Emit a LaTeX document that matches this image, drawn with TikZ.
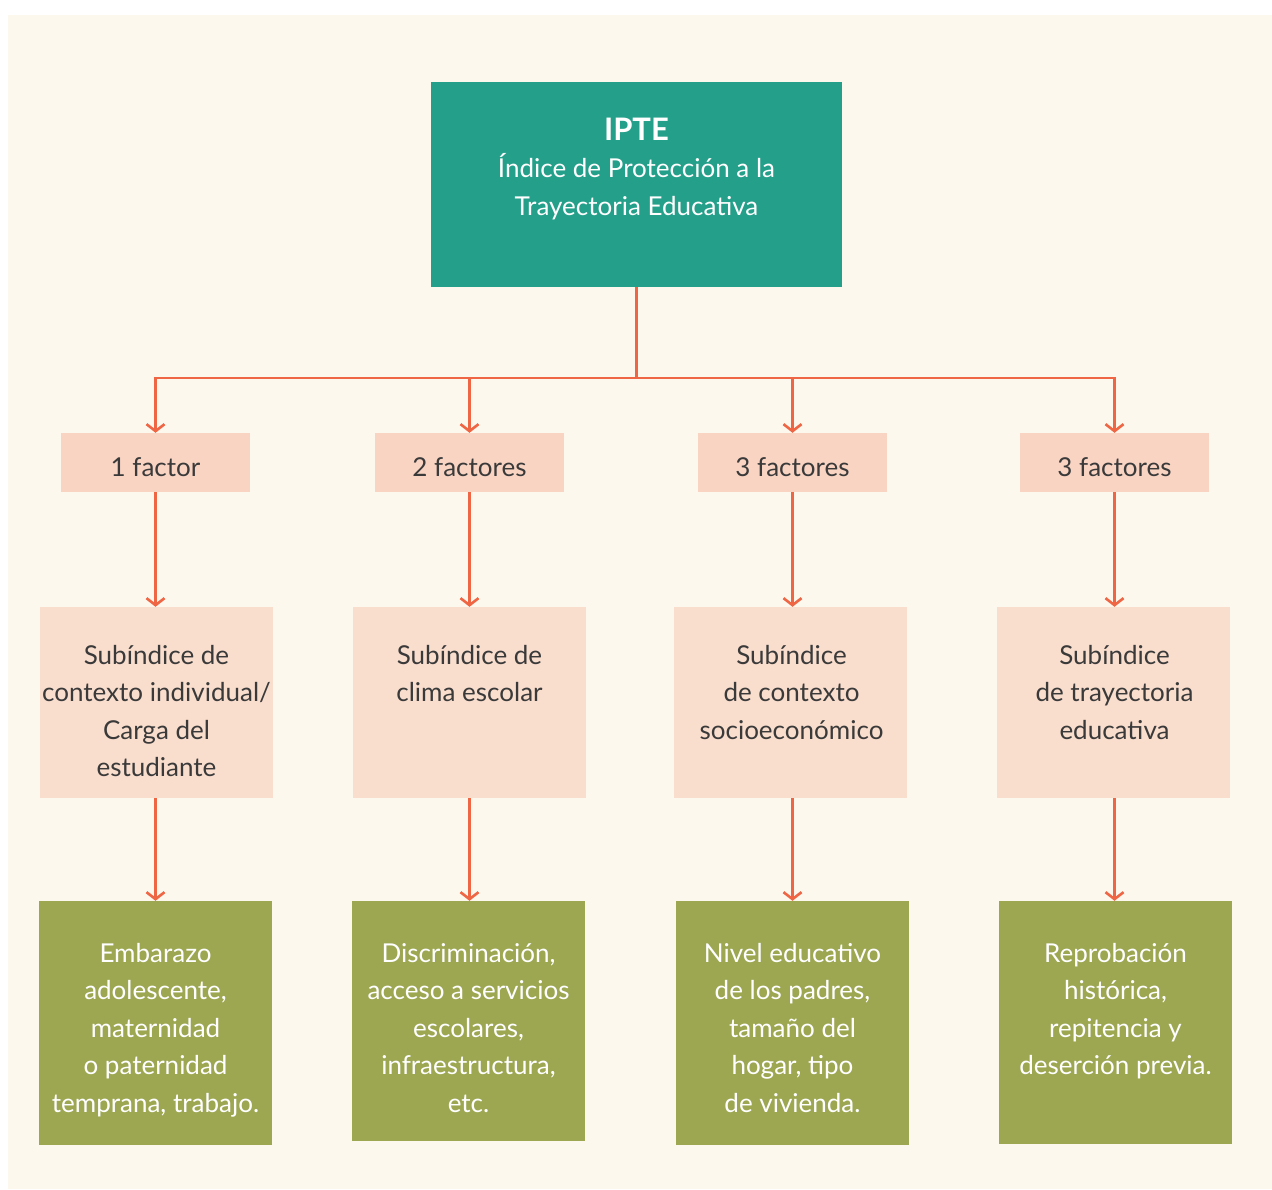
\documentclass[tikz,border=0pt]{standalone}
\usepackage{fontspec}
\setmainfont{Lato}
\usetikzlibrary{arrows.meta}
\definecolor{cream}{HTML}{FCF8EE}
\definecolor{teal}{HTML}{24A08A}
\definecolor{peachA}{HTML}{F9D4C3}
\definecolor{peachB}{HTML}{F9DDCD}
\definecolor{olive}{HTML}{9DA752}
\definecolor{lineor}{HTML}{EF6645}
\definecolor{ink}{HTML}{3A3A3A}
\tikzset{
  box/.style={rectangle, inner sep=0pt, draw=none},
  topbox/.style={box, fill=teal, minimum width=411pt, minimum height=205pt},
  factbox/.style={box, fill=peachA, minimum width=189pt, minimum height=59pt, text=ink,
    font=\fontsize{26}{37.5}\selectfont, text height=27pt, text depth=0pt},
  subbox/.style={box, fill=peachB, minimum width=233pt, minimum height=191pt},
  greenbox/.style={box, fill=olive, minimum width=233pt, minimum height=244pt},
  txt/.style={inner sep=0pt, align=center, anchor=north, font=\fontsize{26}{37.5}\selectfont},
  conn/.style={draw=lineor, line width=2.6pt, line join=miter},
  arr/.style={conn, -{Straight Barb[length=7pt, width=18pt, line width=2.6pt]}}
}
\begin{document}
\begin{tikzpicture}[x=1pt, y=-1pt]
\useasboundingbox (0,0) rectangle (1272,1189);
\fill[white] (0,0) rectangle (1272,1189);
\fill[cream] (8,15) rectangle (1272,1189);

% top box
\node[topbox] (top) at (636.5,184.5) {};
\node[txt, text=white] (toptxt) at (636.5,114) {{\fontsize{31}{37.5}\selectfont\bfseries\strut IPTE}\\Índice de Protección a la\\Trayectoria Educativa};

% factor boxes
\node[factbox] (f1) at (155.5,462.5) {1 factor};
\node[factbox] (f2) at (469.5,462.5) {2 factores};
\node[factbox] (f3) at (792.5,462.5) {3 factores};
\node[factbox] (f4) at (1114.5,462.5) {3 factores};

% subindex boxes
\node[subbox] (s1) at (156.5,702.5) {};
\node[subbox] (s2) at (469.5,702.5) {};
\node[subbox] (s3) at (790.5,702.5) {};
\node[subbox] (s4) at (1113.5,702.5) {};
\node[txt, text=ink] (s1t) at (156.5,638) {\strut Subíndice de\\contexto individual/\\Carga del\\estudiante};
\node[txt, text=ink] (s2t) at (469.5,638) {\strut Subíndice de\\clima escolar};
\node[txt, text=ink] (s3t) at (791.5,638) {\strut Subíndice\\de contexto\\socioeconómico};
\node[txt, text=ink] (s4t) at (1114.5,638) {\strut Subíndice\\de trayectoria\\educativa};

% green boxes
\node[greenbox] (g1) at (155.5,1023) {};
\node[greenbox, minimum height=240pt] (g2) at (468.5,1021) {};
\node[greenbox] (g3) at (792.5,1023) {};
\node[greenbox, minimum height=243pt] (g4) at (1115.5,1022.5) {};
\node[txt, text=white] (g1t) at (155.5,936) {\strut Embarazo\\adolescente,\\maternidad\\o paternidad\\temprana, trabajo.};
\node[txt, text=white] (g2t) at (468.5,936) {\strut Discriminación,\\acceso a servicios\\escolares,\\infraestructura,\\etc.};
\node[txt, text=white] (g3t) at (792.5,936) {\strut Nivel educativo\\de los padres,\\tamaño del\\hogar, tipo\\de vivienda.};
\node[txt, text=white] (g4t) at (1115.5,936) {\strut Reprobación\\histórica,\\repitencia y\\deserción previa.};

% connectors
\coordinate (j) at (636.5,378);
\draw[conn] (top.south) -- (j);
\draw[arr] (j) -| (f1.north);
\draw[arr] (j) -| (f2.north);
\draw[arr] (j) -| (f3.north);
\draw[arr] (j) -| (f4.north);
\draw[arr] (f1.south) -- (f1.south |- s1.north);
\draw[arr] (f2.south) -- (f2.south |- s2.north);
\draw[arr] (f3.south) -- (f3.south |- s3.north);
\draw[arr] (f4.south) -- (f4.south |- s4.north);
\draw[arr] (f1.south |- s1.south) -- (f1.south |- g1.north);
\draw[arr] (f2.south |- s2.south) -- (f2.south |- g2.north);
\draw[arr] (f3.south |- s3.south) -- (f3.south |- g3.north);
\draw[arr] (f4.south |- s4.south) -- (f4.south |- g4.north);
\end{tikzpicture}
\end{document}
